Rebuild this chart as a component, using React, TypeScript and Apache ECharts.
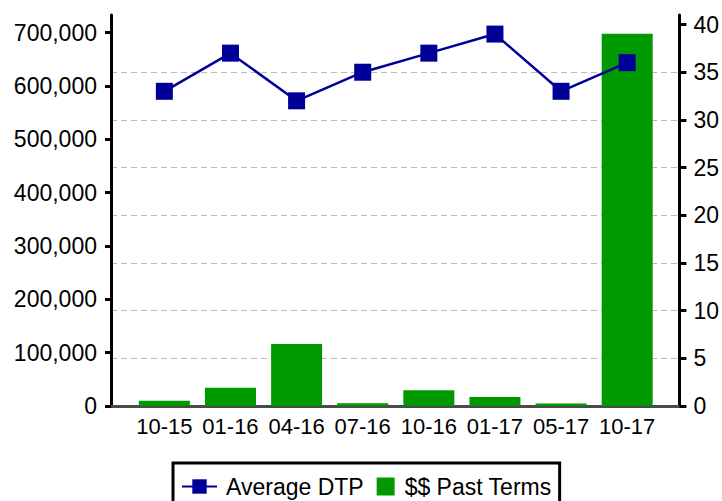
import React, { useEffect, useRef } from "react";
import * as echarts from "echarts";

const categories = ["10-15", "01-16", "04-16", "07-16", "10-16", "01-17", "05-17", "10-17"];
const pastTerms = [10000, 34000, 116000, 5000, 29500, 17000, 4500, 698000];
const averageDTP = [33, 37, 32, 35, 37, 39, 33, 36];
const leftTicks = [0, 100000, 200000, 300000, 400000, 500000, 600000, 700000];
const rightTicks = [0, 5, 10, 15, 20, 25, 30, 35, 40];

export default function App() {
  const ref = useRef<HTMLDivElement>(null);
  useEffect(() => {
    if (!ref.current) return;
    const chart = echarts.init(ref.current, undefined, { renderer: "svg" });
    const font = "'Liberation Sans', Arial, sans-serif";
    const idx = categories.map((_, i) => i);
    chart.setOption({
      animation: false,
      textStyle: { fontFamily: font },
      grid: { left: 111, right: 41, top: 15, bottom: 95, containLabel: false },
      legend: {
        left: 173,
        top: 463,
        orient: "horizontal",
        borderColor: "#000",
        borderWidth: 3,
        padding: [12, 8, 12, 8],
        itemWidth: 35,
        itemHeight: 18,
        itemGap: 1,
        textStyle: { fontSize: 23, color: "#000", fontFamily: font },
        data: [
          { name: "Average DTP", textStyle: { padding: [0, 0, 0, 4] } },
          {
            name: "$$ Past Terms",
            icon: "path://M0,0 M35,18 M12,0 L30,0 L30,18 L12,18 Z",
            textStyle: { padding: [0, 0, 0, 0] },
          },
        ],
      },
      xAxis: {
        type: "value",
        min: -0.807,
        max: 7.79,
        axisTick: { show: false },
        axisLine: { show: true, onZero: false, lineStyle: { color: "#4a4a4a", width: 3 } },
        axisLabel: {
          fontSize: 22,
          color: "#000",
          margin: 9,
          fontFamily: font,
          customValues: idx,
          formatter: (v: number) => categories[Math.round(v)] ?? "",
        },
        splitLine: { show: false },
      },
      yAxis: [
        {
          type: "value",
          min: 0,
          max: 733000,
          interval: 100000,
          position: "left",
          axisLine: { show: true, onZero: false, lineStyle: { color: "#000", width: 3 } },
          axisTick: { show: true, length: 6, lineStyle: { color: "#000", width: 3 }, customValues: leftTicks },
          axisLabel: {
            fontSize: 23,
            color: "#000",
            margin: 14,
            fontFamily: font,
            customValues: leftTicks,
            formatter: (v: number) => v.toLocaleString("en-US"),
          },
          splitLine: { show: false },
        },
        {
          type: "value",
          min: 0,
          max: 41,
          interval: 5,
          position: "right",
          axisLine: { show: true, onZero: false, lineStyle: { color: "#000", width: 3 } },
          axisTick: { show: true, length: 7, lineStyle: { color: "#000", width: 3 }, customValues: rightTicks },
          axisLabel: { fontSize: 23, color: "#000", margin: 14, fontFamily: font, customValues: rightTicks },
          splitLine: {
            show: true,
            showMaxLine: false,
            showMinLine: false,
            lineStyle: { color: "#bbb", type: [6, 4], width: 1 },
          },
        },
      ],
      series: [
        {
          name: "$$ Past Terms",
          type: "bar",
          yAxisIndex: 0,
          data: pastTerms.map((v, i) => [i, v]),
          barWidth: 51,
          itemStyle: { color: "#009900" },
        },
        {
          name: "Average DTP",
          type: "line",
          yAxisIndex: 1,
          data: averageDTP.map((v, i) => [i, v]),
          symbol: "rect",
          symbolSize: 17,
          lineStyle: { color: "#000099", width: 2.5 },
          itemStyle: { color: "#000099" },
        },
      ],
    });
    return () => chart.dispose();
  }, []);
  return <div ref={ref} style={{ width: 722, height: 501, position: "absolute", left: 0, top: 0 }} />;
}
